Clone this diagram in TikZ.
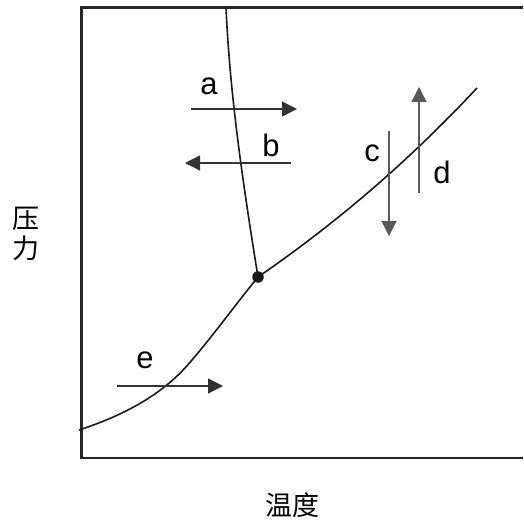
\documentclass[tikz,border=0pt]{standalone}
\usepackage{fontspec}
\setmainfont{Liberation Sans}
\newfontfamily\cjk{Noto Sans CJK SC}
\usetikzlibrary{arrows.meta, positioning}

\begin{document}
\begin{tikzpicture}[
    x=1pt, y=-1pt,
    frame/.style={line width=2.4pt, black!85},
    curve/.style={line width=1.6pt, black!90},
    arr/.style={-{Triangle[length=15pt, width=15pt]}, line width=1.3pt, black!80},
    varr/.style={arr, black!65},
    lbl/.style={font=\fontsize{31}{31}\selectfont, inner sep=0pt},
    axl/.style={font=\cjk\fontsize{27}{30}\selectfont, inner sep=0pt, align=center},
    tpt/.style={circle, fill=black!90, inner sep=0pt, minimum size=11.5pt},
]
\useasboundingbox (0,0) rectangle (523,524);

% ── Frame (right side runs off the page) ──
\draw[frame] (523,7.5) -- (81.5,7.5) -- (81.5,458) -- (523,458);

% ── Triple point and curve ends ──
\node[tpt] (TP) at (258,277) {};
\coordinate (Ftop) at (226,7.5);
\coordinate (Vend) at (477,88);
\coordinate (Sbeg) at (79,430);
\coordinate (Smid) at (185,368);

% ── Phase boundaries ──
\draw[curve] (Ftop) .. controls (230,98) and (244,190) .. (TP.center);
\draw[curve] (TP.center) .. controls (348,215) and (417,152) .. (Vend);
\draw[curve] (Sbeg) .. controls (125,415) and (160,395) .. (Smid)
                    .. controls (210,340) and (235,305) .. (TP.center);

% ── Process arrows ──
\coordinate (a0) at (191,109);  \coordinate (a1) at (297,109);
\coordinate (b0) at (291,163);  \coordinate (b1) at (185,163);
\coordinate (c0) at (389,131);  \coordinate (c1) at (389,236);
\coordinate (d0) at (419,193);  \coordinate (d1) at (419,87);
\coordinate (e0) at (117,386);  \coordinate (e1) at (223,386);

\draw[arr] (a0) -- (a1);
\draw[arr] (b0) -- (b1);
\draw[varr] (c0) -- (c1);
\draw[varr] (d0) -- (d1);
\draw[arr] (e0) -- (e1);

% ── Labels ──
\node[lbl] (La) at (209,86) {a};
\node[lbl] (Lb) at (271,145) {b};
\node[lbl] (Lc) at (372,153) {c};
\node[lbl] (Ld) at (442,172) {d};
\node[lbl] (Le) at (145,360) {e};

% ── Axis titles ──
\node[axl] (Ylab) at (26,234) {压\\力};
\node[axl] (Xlab) at (292,505) {温度};

\end{tikzpicture}
\end{document}
